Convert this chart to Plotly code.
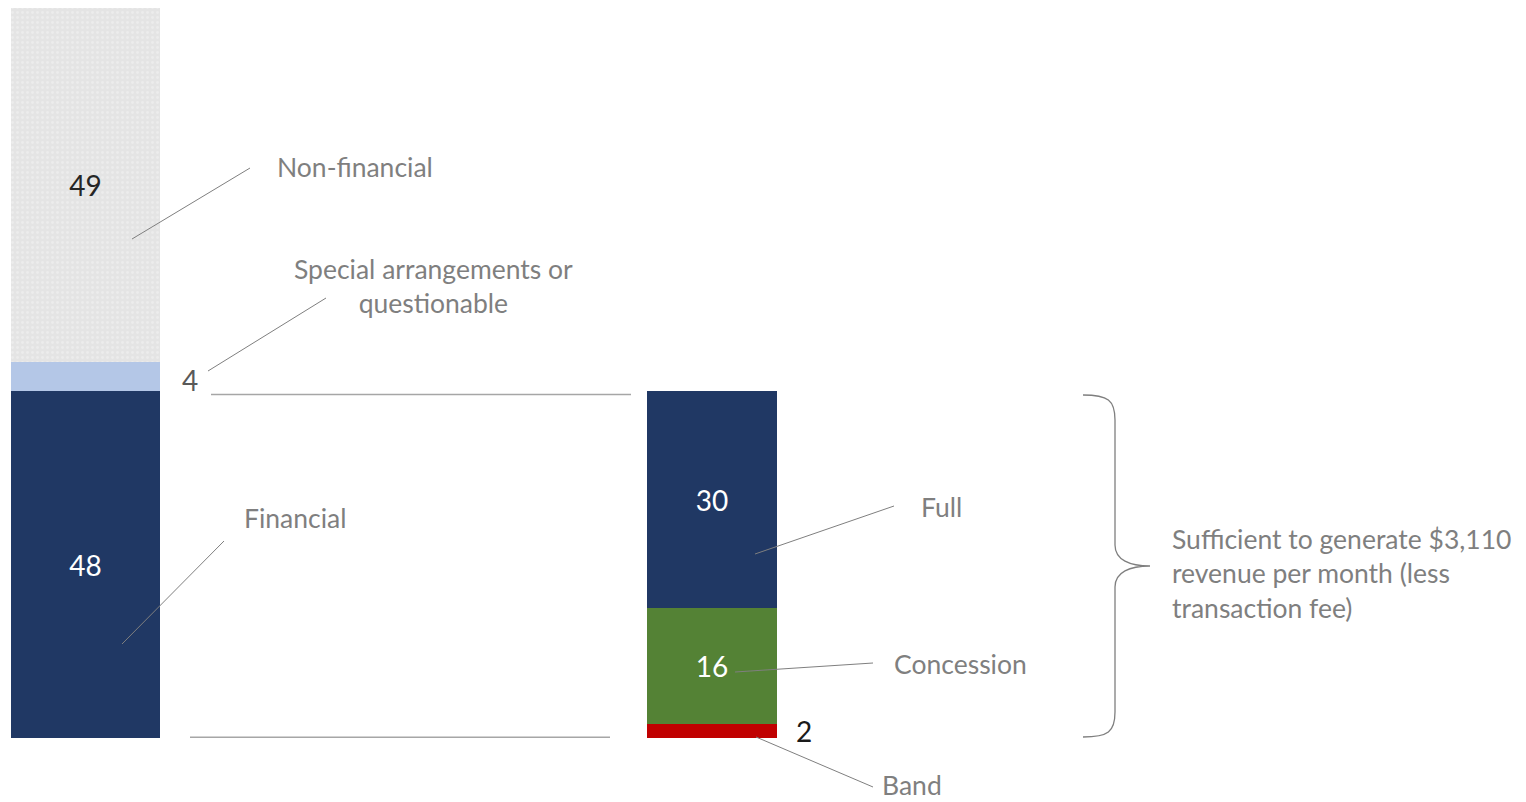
import plotly.graph_objects as go

# ---- data ----
left_labels = ["Financial", "Special arrangements or questionable", "Non-financial"]
left_values = [48, 4, 49]
right_labels = ["Band", "Concession", "Full"]
right_values = [2, 16, 30]
brace_text = "Sufficient to generate $3,110<br>revenue per month (less<br>transaction fee)"

# ---- styling ----
W, H = 1526, 802
PX_PER_UNIT = 7.23
BASE_PX = 738
Y0 = -(H - BASE_PX) / PX_PER_UNIT
Y1 = BASE_PX / PX_PER_UNIT

def py(p):
    """pixel row -> data y"""
    return (BASE_PX - p) / PX_PER_UNIT

FONT = "Lato"
GRAY = "#7F7F7F"
LSIZE = 26.5
left_colors = ["#203864", "#B4C7E7", "#E4E4E4"]
right_colors = ["#C00000", "#548235", "#203864"]
left_text_colors = ["#FFFFFF", "#FFFFFF", "#262626"]
right_text_colors = ["#FFFFFF", "#FFFFFF", "#FFFFFF"]
left_show = [True, False, True]
right_show = [False, True, True]

LEFT_X, LEFT_W = 85.5, 149
RIGHT_X, RIGHT_W = 712, 130

fig = go.Figure()
for lab, v, c, tc, show in zip(left_labels, left_values, left_colors, left_text_colors, left_show):
    pattern = None
    if lab == "Non-financial":
        pattern = dict(shape=".", fgcolor="#F4F4F4", bgcolor=c, size=5, solidity=0.25)
    fig.add_trace(go.Bar(
        x=[LEFT_X], y=[v], width=[LEFT_W], name=lab,
        marker=dict(color=c, line=dict(width=0), pattern=pattern),
        text=[str(v)] if show else [""], textposition="inside",
        insidetextanchor="middle", textangle=0,
        textfont=dict(family=FONT, size=28, color=tc),
        showlegend=False, hoverinfo="name+y",
    ))
for lab, v, c, tc, show in zip(right_labels, right_values, right_colors, right_text_colors, right_show):
    fig.add_trace(go.Bar(
        x=[RIGHT_X], y=[v], width=[RIGHT_W], name=lab,
        marker=dict(color=c, line=dict(width=0)),
        text=[str(v)] if show else [""], textposition="inside",
        insidetextanchor="middle", textangle=0,
        textfont=dict(family=FONT, size=28, color=tc),
        showlegend=False, hoverinfo="name+y",
    ))

shapes = []
def seg(x0, p0, x1, p1, color=GRAY, width=1):
    shapes.append(dict(type="line", xref="x", yref="y", x0=x0, y0=py(p0), x1=x1, y1=py(p1),
                       line=dict(color=color, width=width)))

# connector lines
shapes.append(dict(type="line", xref="x", yref="y", x0=211, x1=631,
                   y0=sum(right_values) - 0.5, y1=sum(right_values) - 0.5,
                   line=dict(color="#A6A6A6", width=1.5)))
shapes.append(dict(type="line", xref="x", yref="y", x0=190, x1=610, y0=0.1, y1=0.1,
                   line=dict(color="#A6A6A6", width=1.5)))

# leader lines
seg(132, 239, 250, 168)   # Non-financial
seg(208, 371, 326, 298)   # Special
seg(122, 644, 224, 541)   # Financial
seg(755, 554, 894, 506)   # Full
seg(735, 672, 873, 663)   # Concession
seg(756, 737, 873, 787)   # Band

# curly brace
def P(x, p):
    return f"{x},{py(p):.4f}"
path = (f"M {P(1083,395)} C {P(1108,395)} {P(1115,400)} {P(1115,420)} "
        f"L {P(1115,545)} C {P(1115,560)} {P(1130,566)} {P(1150,566)} "
        f"C {P(1130,566)} {P(1115,572)} {P(1115,587)} "
        f"L {P(1115,712)} C {P(1115,732)} {P(1108,737)} {P(1083,737)}")
shapes.append(dict(type="path", xref="x", yref="y", path=path, line=dict(color=GRAY, width=1.3)))

ann = []
def label(text, x, p, anchor="left", size=LSIZE, color=GRAY, align="left"):
    ann.append(dict(text=text, x=x, y=py(p), xref="x", yref="y", xanchor=anchor, yanchor="middle",
                    showarrow=False, align=align, font=dict(family=FONT, size=size, color=color)))

label("Non-financial", 275, 167)
label("Special arrangements or<br>questionable", 433, 286, anchor="center", align="center")
label("Financial", 242, 518)
label("Full", 919, 507)
label("Concession", 892, 664)
label("Band", 880, 785)
label(brace_text, 1170, 573)
label(str(left_values[1]), 190, 380, anchor="center", size=28, color="#595959")
label(str(right_values[0]), 804, 731, anchor="center", size=28, color="#1A1A1A")

fig.update_layout(
    width=W, height=H, margin=dict(l=0, r=0, t=0, b=0),
    barmode="stack", bargap=0,
    plot_bgcolor="white", paper_bgcolor="white",
    xaxis=dict(range=[0, W], visible=False, fixedrange=True),
    yaxis=dict(range=[Y0, Y1], visible=False, fixedrange=True),
    shapes=shapes, annotations=ann,
)
fig.write_html("out.html")
